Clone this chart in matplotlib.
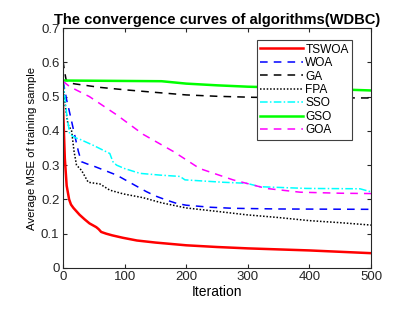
import numpy as np
import matplotlib.pyplot as plt

plt.rcParams['font.family'] = ['Liberation Sans', 'DejaVu Sans']

# convergence data (iteration, average MSE)
tswoa_it = [0, 3, 6, 10, 13, 17, 22, 27, 35, 43, 50, 54, 58, 62, 70, 80, 97, 120, 150, 200, 250, 300, 350, 400, 450, 500]
tswoa_v = [0.478, 0.32, 0.24, 0.2, 0.185, 0.175, 0.165, 0.155, 0.142, 0.13, 0.123, 0.119, 0.113, 0.105, 0.1, 0.095,
           0.088, 0.08, 0.074, 0.066, 0.061, 0.057, 0.054, 0.051, 0.047, 0.043]

woa_it = [0, 3, 6, 10, 15, 20, 25, 30, 40, 50, 60, 70, 87, 100, 120, 135, 150, 168, 185, 200, 240, 276, 350, 500]
woa_v = [0.545, 0.52, 0.49, 0.46, 0.42, 0.38, 0.34, 0.31, 0.303, 0.297, 0.29, 0.283, 0.271, 0.258, 0.238, 0.223,
         0.21, 0.198, 0.188, 0.183, 0.177, 0.174, 0.172, 0.171]

ga_it = [0, 2, 5, 10, 20, 40, 60, 100, 146, 200, 250, 309, 400, 500]
ga_v = [0.605, 0.58, 0.55, 0.54, 0.537, 0.532, 0.527, 0.52, 0.513, 0.505, 0.501, 0.498, 0.497, 0.496]

fpa_it = [0, 4, 8, 14, 18, 22, 30, 41, 60, 76, 98, 130, 160, 200, 250, 298, 350, 400, 450, 500]
fpa_v = [0.545, 0.47, 0.42, 0.40, 0.34, 0.30, 0.285, 0.25, 0.245, 0.227, 0.216, 0.205, 0.19, 0.175, 0.165, 0.155,
         0.147, 0.138, 0.132, 0.125]

sso_it = [0, 3, 6, 11, 20, 28, 49, 76, 81, 87, 100, 125, 157, 190, 198, 260, 298, 320, 395, 482, 500]
sso_v = [0.545, 0.5, 0.45, 0.39, 0.38, 0.375, 0.358, 0.334, 0.31, 0.30, 0.29, 0.276, 0.271, 0.267, 0.257, 0.25,
         0.247, 0.237, 0.232, 0.231, 0.222]

gso_it = [0, 160, 200, 250, 300, 385, 500]
gso_v = [0.547, 0.545, 0.538, 0.533, 0.529, 0.525, 0.518]

goa_it = [0, 11, 43, 87, 130, 179, 222, 276, 330, 385, 450, 500]
goa_v = [0.545, 0.529, 0.5, 0.447, 0.39, 0.34, 0.29, 0.257, 0.232, 0.221, 0.218, 0.217]

fig = plt.figure(figsize=(3.96, 3.09), dpi=100)
ax = fig.add_axes([0.159, 0.133, 0.778, 0.776])

ax.plot(tswoa_it, tswoa_v, color='red', lw=1.8, ls='-', label='TSWOA')
ax.plot(woa_it, woa_v, color='blue', lw=1.1, ls=(0, (5, 4)), label='WOA')
ax.plot(ga_it, ga_v, color='black', lw=1.1, ls=(0, (5, 4)), label='GA')
ax.plot(fpa_it, fpa_v, color='black', lw=1.1, ls=(0, (1, 1.2)), label='FPA')
ax.plot(sso_it, sso_v, color='cyan', lw=1.1, ls=(0, (5, 1.5, 1, 1.5)), label='SSO')
ax.plot(gso_it, gso_v, color='#00ff00', lw=1.8, ls='-', label='GSO')
ax.plot(goa_it, goa_v, color='magenta', lw=1.1, ls=(0, (5, 4)), label='GOA')

ax.set_xlim(0, 500)
ax.set_ylim(0, 0.7)
ax.set_xticks(np.arange(0, 501, 100))
ax.set_yticks(np.arange(0, 0.71, 0.1))
ax.set_yticklabels(['0', '0.1', '0.2', '0.3', '0.4', '0.5', '0.6', '0.7'])
ax.tick_params(direction='in', top=True, right=True, length=3, labelsize=9.5, colors='#262626', pad=2.5)
for s in ax.spines.values():
    s.set_color('#262626')
    s.set_linewidth(0.8)

ax.set_xlabel('Iteration', fontsize=10, labelpad=1)
ax.set_ylabel('Average MSE of training sample', fontsize=8.2, labelpad=3)
ax.set_title('The convergence curves of algorithms(WDBC)', fontsize=10.6, fontweight='bold', pad=3)

leg = ax.legend(loc='upper right', fontsize=8.6, handlelength=3.6, handletextpad=0.15,
                labelspacing=0.12, borderpad=0.3, fancybox=False, framealpha=1,
                edgecolor='#404040', bbox_to_anchor=(0.958, 0.975))
leg.get_frame().set_linewidth(0.8)

fig.savefig('out.png', dpi=100)
